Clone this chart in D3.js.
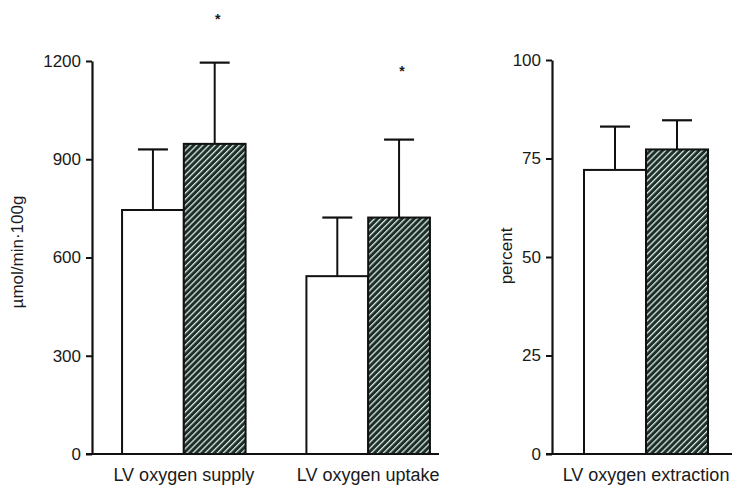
<!DOCTYPE html>
<html>
<head>
<meta charset="utf-8">
<script src="https://cdn.jsdelivr.net/npm/d3@7"></script>
<style>
  html, body { margin: 0; padding: 0; background: #fff; }
  svg { display: block; }
  text { font-family: "Liberation Sans", Arial, Helvetica, sans-serif; fill: #1a1a1a; }
</style>
</head>
<body>
<svg id="chart" width="732" height="489"></svg>
<script>
// ---------- data ----------
const leftCategories = ["LV oxygen supply", "LV oxygen uptake"];
const rightCategories = ["LV oxygen extraction"];
const seriesNames = ["control", "treated"];
// left panel (µmol/min·100g)
const leftControlMean = [745, 543];
const leftControlSD = [930, 722];       // top of error bar
const leftTreatedMean = [947, 722];
const leftTreatedSD = [1195, 960];      // top of error bar
const leftStars = [1337, 1178];         // asterisk position (value units), treated bars
// right panel (percent)
const rightControlMean = [72.1];
const rightControlSD = [83.1];
const rightTreatedMean = [77.3];
const rightTreatedSD = [84.7];
const leftTicks = [0, 300, 600, 900, 1200];
const rightTicks = [0, 25, 50, 75, 100];
const leftYLabel = "µmol/min·100g";
const rightYLabel = "percent";

// ---------- drawing ----------
const svg = d3.select("#chart");
const defs = svg.append("defs");
const pat = defs.append("pattern")
  .attr("id", "hatch")
  .attr("patternUnits", "userSpaceOnUse")
  .attr("width", 4.3).attr("height", 4.3)
  .attr("patternTransform", "rotate(45)");
pat.append("rect").attr("width", 4.3).attr("height", 4.3).attr("fill", "#1c2e28");
pat.append("rect").attr("x", 0).attr("width", 1.3).attr("height", 4.3).attr("fill", "#dbe7e2");

const baseY = 454;

function panel(opts) {
  const g = svg.append("g");
  const y = d3.scaleLinear().domain(opts.domain).range([baseY, opts.top]);
  const x = d3.scaleBand().domain(opts.categories).range(opts.xRange)
    .paddingInner(opts.padInner).paddingOuter(opts.padOuter);
  const xs = d3.scaleBand().domain(seriesNames).range([0, x.bandwidth()]).padding(0);

  // y axis
  const axis = d3.axisLeft(y).tickValues(opts.ticks).tickFormat(d3.format("d"))
    .tickSize(6).tickPadding(5).tickSizeOuter(0);
  const ag = g.append("g").attr("transform", `translate(${opts.axisX},0)`).call(axis);
  ag.select(".domain").attr("stroke", "#111").attr("stroke-width", 2.2);
  ag.selectAll(".tick line").attr("stroke", "#111").attr("stroke-width", 2);
  ag.selectAll(".tick text").attr("font-size", 17).attr("fill", "#1a1a1a")
    .attr("font-family", '"Liberation Sans", Arial, sans-serif');

  // baseline
  g.append("line").attr("x1", opts.axisX - 6).attr("x2", opts.baseEnd)
    .attr("y1", baseY).attr("y2", baseY).attr("stroke", "#111").attr("stroke-width", 2.2);

  const rows = opts.categories.map((c, i) => ({
    cat: c,
    bars: [
      { s: "control", mean: opts.cMean[i], sd: opts.cSD[i] },
      { s: "treated", mean: opts.tMean[i], sd: opts.tSD[i], star: opts.stars ? opts.stars[i] : null }
    ]
  }));

  const grp = g.selectAll(".grp").data(rows).join("g")
    .attr("transform", d => `translate(${x(d.cat)},0)`);

  const bar = grp.selectAll(".bar").data(d => d.bars).join("g");
  bar.append("line")
    .attr("x1", d => xs(d.s) + xs.bandwidth() / 2).attr("x2", d => xs(d.s) + xs.bandwidth() / 2)
    .attr("y1", d => y(d.mean)).attr("y2", d => y(d.sd))
    .attr("stroke", "#111").attr("stroke-width", 2);
  bar.append("line")
    .attr("x1", d => xs(d.s) + xs.bandwidth() / 2 - 15).attr("x2", d => xs(d.s) + xs.bandwidth() / 2 + 15)
    .attr("y1", d => y(d.sd)).attr("y2", d => y(d.sd))
    .attr("stroke", "#111").attr("stroke-width", 2.2);
  bar.append("rect")
    .attr("x", d => xs(d.s)).attr("width", xs.bandwidth())
    .attr("y", d => y(d.mean)).attr("height", d => baseY - y(d.mean))
    .attr("fill", d => d.s === "treated" ? "url(#hatch)" : "#fff")
    .attr("stroke", "#111").attr("stroke-width", 2);
  bar.filter(d => d.star != null).append("text")
    .attr("x", d => xs(d.s) + xs.bandwidth() / 2 + 3)
    .attr("y", d => y(d.star) + 8)
    .attr("text-anchor", "middle").attr("font-size", 14).attr("font-weight", "bold").text("*");

  // category labels
  grp.append("text")
    .attr("x", x.bandwidth() / 2).attr("y", 481)
    .attr("text-anchor", "middle").attr("font-size", 18)
    .text(d => d.cat);

  // y label
  g.append("text")
    .attr("transform", `translate(${opts.labelX},${opts.labelY}) rotate(-90)`)
    .attr("text-anchor", "middle").attr("font-size", opts.labelSize)
    .text(opts.yLabel);
}

panel({
  categories: leftCategories, domain: [0, 1200], top: 61, ticks: leftTicks,
  xRange: [92, 460], padInner: 0.33, padOuter: 0.163, axisX: 92, baseEnd: 439,
  cMean: leftControlMean, cSD: leftControlSD, tMean: leftTreatedMean, tSD: leftTreatedSD,
  stars: leftStars, yLabel: leftYLabel, labelX: 23, labelY: 252, labelSize: 17
});
panel({
  categories: rightCategories, domain: [0, 100], top: 60, ticks: rightTicks,
  xRange: [584, 708], padInner: 0, padOuter: 0, axisX: 552, baseEnd: 732,
  cMean: rightControlMean, cSD: rightControlSD, tMean: rightTreatedMean, tSD: rightTreatedSD,
  stars: null, yLabel: rightYLabel, labelX: 512, labelY: 256, labelSize: 17
});
</script>
</body>
</html>
